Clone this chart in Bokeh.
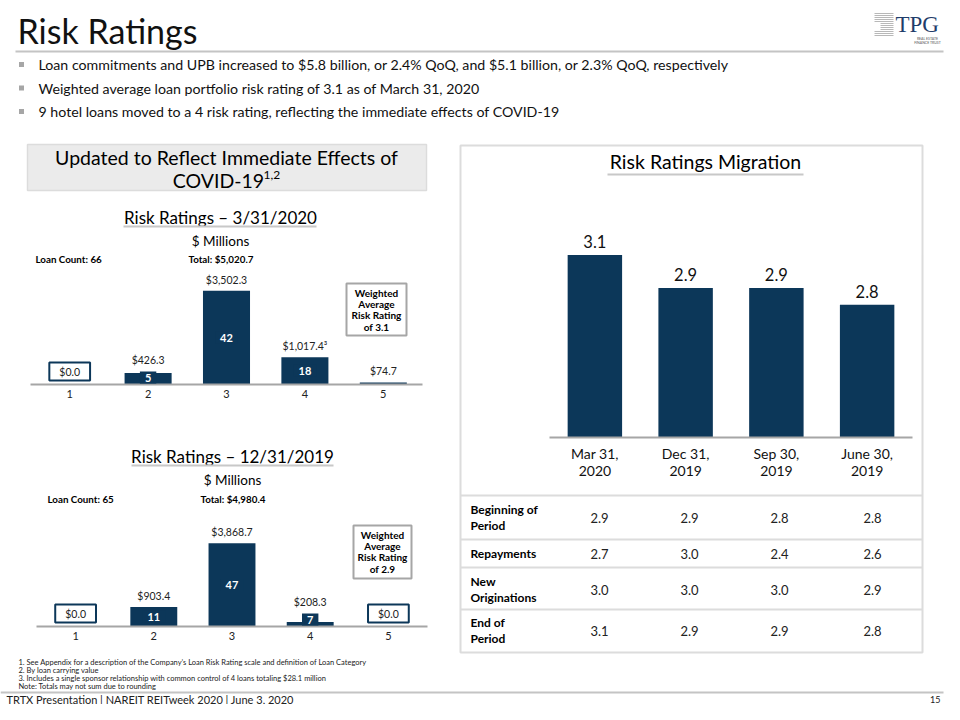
from bokeh.plotting import figure
from bokeh.models import Range1d
from bokeh.core.properties import value
from bokeh.embed import file_html
from bokeh.resources import INLINE

# ---------------- data ----------------
slide_title = "Risk Ratings"
bullets = [
    "Loan commitments and UPB increased to $5.8 billion, or 2.4% QoQ, and $5.1 billion, or 2.3% QoQ, respectively",
    "Weighted average loan portfolio risk rating of 3.1 as of March 31, 2020",
    "9 hotel loans moved to a 4 risk rating, reflecting the immediate effects of COVID-19",
]
ratings = [1, 2, 3, 4, 5]
upb_2020 = [0.0, 426.3, 3502.3, 1017.4, 74.7]
count_2020 = [0, 5, 42, 18, 1]
mark_2020 = ["", "", "", "³", ""]
upb_2019 = [0.0, 903.4, 3868.7, 208.3, 0.0]
count_2019 = [0, 11, 47, 7, 0]
mark_2019 = ["", "", "", "", ""]
loan_counts = [66, 65]
totals = [5020.7, 4980.4]
weighted_avg = [3.1, 2.9]
chart_titles = ["Risk Ratings \u2013 3/31/2020", "Risk Ratings \u2013 12/31/2019"]

period_line1 = ["Mar 31,", "Dec 31,", "Sep 30,", "June 30,"]
period_line2 = ["2020", "2019", "2019", "2019"]
migration = [3.1, 2.9, 2.9, 2.8]
row_labels = [["Beginning of", "Period"], ["Repayments"], ["New", "Originations"], ["End of", "Period"]]
beginning = [2.9, 2.9, 2.8, 2.8]
repayments = [2.7, 3.0, 2.4, 2.6]
new_orig = [3.0, 3.0, 3.0, 2.9]
end_period = [3.1, 2.9, 2.9, 2.8]

footnotes = [
    "1. See Appendix for a description of the Company\u2019s Loan Risk Rating scale and definition of Loan Category",
    "2. By loan carrying value",
    "3. Includes a single sponsor relationship with common control of 4 loans totaling $28.1 million",
    "Note: Totals may not sum due to rounding",
]
footer = "TRTX Presentation | NAREIT REITweek 2020 | June 3, 2020"
page_no = "15"

# ---------------- style ----------------
W, H = 944, 704
FONT = "Lato"
NAVY = "#0c3759"
GRAY_LINE = "#c4c4c4"
BOX_GRAY = "#a6a6a6"


def X(x):
    return x


def Y(y):
    return H - y


p = figure(width=W, height=H, x_range=Range1d(0, W), y_range=Range1d(0, H),
           output_backend="svg", toolbar_location=None, min_border=0,
           x_axis_location=None, y_axis_location=None, outline_line_color=None,
           background_fill_color="white", border_fill_color="white")
p.grid.visible = False


def txt(x, y, s, size, bold=False, align="left", color="#000000", baseline="middle", font=FONT):
    p.text(x=[X(x)], y=[Y(y)], text=[s], text_font=value(font), text_font_size=f"{size}px",
           text_font_style="bold" if bold else "normal", text_align=align,
           text_baseline=baseline, text_color=color)


def hline(x0, x1, y, color=GRAY_LINE, w=2):
    p.segment(x0=[X(x0)], x1=[X(x1)], y0=[Y(y)], y1=[Y(y)], line_color=color, line_width=w)


def box(x0, x1, y0, y1, fill=None, line=GRAY_LINE, w=2):
    p.quad(left=[X(x0)], right=[X(x1)], top=[Y(y0)], bottom=[Y(y1)],
           fill_color=fill if fill else "white", fill_alpha=1 if fill else 0,
           line_color=line, line_width=w)


# ---------------- header ----------------
txt(17, 30, slide_title, 34, color="#111111")
hline(15, 943, 51)

# logo
for i in range(12):
    yy = 13 + i * 2
    x_start = 874 + (6 if 5 <= i <= 8 else 0)
    p.segment(x0=[X(x_start)], x1=[X(893)], y0=[Y(yy)], y1=[Y(yy)], line_color="#b8b8b8", line_width=1)
txt(895, 24, "TPG", 23, color="#1f3d6b", font="Liberation Serif")
txt(927, 38, "REAL ESTATE", 3.5, align="center", color="#555555")
txt(927, 42, "FINANCE TRUST", 3.5, align="center", color="#555555")

# bullets
for i, b in enumerate(bullets):
    yy = 64 + i * 23.5
    p.scatter(x=[X(21)], y=[Y(yy)], marker="square", size=5, fill_color="#a6a6a6", line_color=None)
    txt(38, yy, b, 14.2, color="#111111")

# ---------------- left panel ----------------
box(27, 426, 144, 190, fill="#ebebeb", line="#dcdcdc", w=1.5)
txt(226, 157, "Updated to Reflect Immediate Effects of", 19.5, align="center")
txt(218, 180, "COVID-19", 19.5, align="center")
txt(263, 174, "1,2", 12, align="left")


def bar_chart(title, title_cx, title_y, ul, base_y, ax0, ax1, scale, upb, counts, marks,
              loan_count, total, lc_x, tot_x, info_y, wbox, wavg):
    txt(title_cx, title_y, title, 17, align="center")
    hline(ul[0], ul[1], title_y + 9, color="#c8c8c8", w=2)
    txt(title_cx, title_y + 23, "$ Millions", 13.5, align="center")
    txt(lc_x, info_y, f"Loan Count: {loan_count}", 9.8, bold=True)
    txt(tot_x, info_y, f"Total: ${total:,.1f}", 9.8, bold=True)

    ymax = 4000.0
    sub = p.subplot(x_source=Range1d(0.5, 5.5), y_source=Range1d(0, ymax),
                    x_target=Range1d(X(ax0), X(ax1)),
                    y_target=Range1d(Y(base_y), Y(base_y) + ymax * scale))
    sub.vbar(x=ratings, top=upb, width=0.6, fill_color=NAVY, line_color=None)
    sub.segment(x0=[0.5], x1=[5.5], y0=[0], y1=[0], line_color="#a6a6a6", line_width=2)
    sub.text(x=ratings, y=[0] * 5, text=[str(r) for r in ratings], y_offset=5,
             text_font=value(FONT), text_font_size="11px", text_align="center",
             text_baseline="top", text_color="#222222")
    # value labels
    floor_label = 14.0 / scale
    nz = [i for i, v in enumerate(upb) if v > 0]
    z = [i for i, v in enumerate(upb) if v == 0]
    sub.text(x=[ratings[i] for i in nz],
             y=[max(upb[i], floor_label) if counts[i] > 0 and upb[i] > 100 else upb[i] for i in nz],
             text=[f"${upb[i]:,.1f}{marks[i]}" for i in nz], y_offset=-5,
             text_font=value(FONT), text_font_size="10.5px", text_align="center",
             text_baseline="bottom", text_color="#222222")
    sub.text(x=[ratings[i] for i in z], y=[0] * len(z), text=[f"${upb[i]:,.1f}" for i in z],
             y_offset=-13, text_font=value(FONT), text_font_size="10.5px", text_align="center",
             text_baseline="middle", text_color="#222222",
             border_line_color=NAVY, border_line_width=2, background_fill_color="white",
             padding=(10, 3))
    # counts inside bars
    min_c = 7.0 / scale
    shown = [i for i in range(5) if counts[i] > 0 and upb[i] > 100]
    sub.text(x=[ratings[i] for i in shown], y=[max(upb[i] / 2, min_c) for i in shown],
             text=[str(counts[i]) for i in shown], text_font=value(FONT), text_font_size="11px",
             text_font_style="bold", text_align="center", text_baseline="middle",
             text_color="white", background_fill_color=NAVY, padding=(5, 2))
    # weighted average box
    x0, x1, y0, y1 = wbox
    box(x0, x1, y0, y1, line=BOX_GRAY, w=2)
    cx = (x0 + x1) / 2
    lines = ["Weighted", "Average", "Risk Rating", f"of {wavg}"]
    for k, s in enumerate(lines):
        txt(cx, y0 + 9.5 + k * 11.2, s, 10, bold=True, align="center")


bar_chart(chart_titles[0], 220, 217, (123, 316), 384, 30, 422, 0.0268, upb_2020, count_2020, mark_2020,
          loan_counts[0], totals[0], 35, 188, 258, (346, 406, 283, 335), weighted_avg[0])
bar_chart(chart_titles[1], 232, 456, (131, 333), 626, 36, 427, 0.0215, upb_2019, count_2019, mark_2019,
          loan_counts[1], totals[1], 47, 200, 498, (353, 411, 525, 578), weighted_avg[1])

# ---------------- right panel ----------------
box(460, 922, 145, 652, line="#dcdcdc", w=2)
txt(705, 161, "Risk Ratings Migration", 19.5, align="center")
hline(607, 803, 174, color="#c8c8c8", w=2)

y0m, y1m = 2.0, 3.2
mscale = 166.0
xs = list(range(len(migration)))
msub = p.subplot(x_source=Range1d(-0.5, 3.5), y_source=Range1d(y0m, y1m),
                 x_target=Range1d(X(549), X(912)),
                 y_target=Range1d(Y(437), Y(437) + (y1m - y0m) * mscale))
msub.vbar(x=xs, top=migration, bottom=y0m, width=0.6, fill_color=NAVY, line_color=None)
msub.segment(x0=[-0.5], x1=[3.5], y0=[y0m], y1=[y0m], line_color="#a6a6a6", line_width=2)
msub.text(x=xs, y=migration, text=[f"{v:.1f}" for v in migration], y_offset=-7,
          text_font=value(FONT), text_font_size="16.5px", text_align="center",
          text_baseline="bottom", text_color="#111111")
msub.text(x=xs, y=[y0m] * 4, text=period_line1, y_offset=16, text_font=value(FONT),
          text_font_size="14px", text_align="center", text_baseline="middle", text_color="#111111")
msub.text(x=xs, y=[y0m] * 4, text=period_line2, y_offset=33, text_font=value(FONT),
          text_font_size="14px", text_align="center", text_baseline="middle", text_color="#111111")

# table
hline(460, 922, 495, color="#dcdcdc")
row_y = [517, 553, 589, 630]
seps = [539, 567, 609]
for s in seps:
    hline(460, 922, s, color="#dcdcdc")
col_x = [599, 689, 779, 872]
rows = [beginning, repayments, new_orig, end_period]
for r, (lab, vals) in enumerate(zip(row_labels, rows)):
    cy = row_y[r]
    if len(lab) == 1:
        txt(470, cy, lab[0], 12, bold=True)
    else:
        txt(470, cy - 8, lab[0], 12, bold=True)
        txt(470, cy + 8, lab[1], 12, bold=True)
    for c, v in enumerate(vals):
        txt(col_x[c], cy, f"{v:.1f}", 13, align="center", color="#222222")

# ---------------- footer ----------------
for i, f in enumerate(footnotes):
    txt(18, 662 + i * 8, f, 7.5, color="#222222")
hline(0, 943, 692)
txt(6, 698.5, footer, 11, color="#222222")
txt(940, 698.5, page_no, 9, align="right", color="#222222")

open("out.html", "w").write(file_html(p, INLINE))
